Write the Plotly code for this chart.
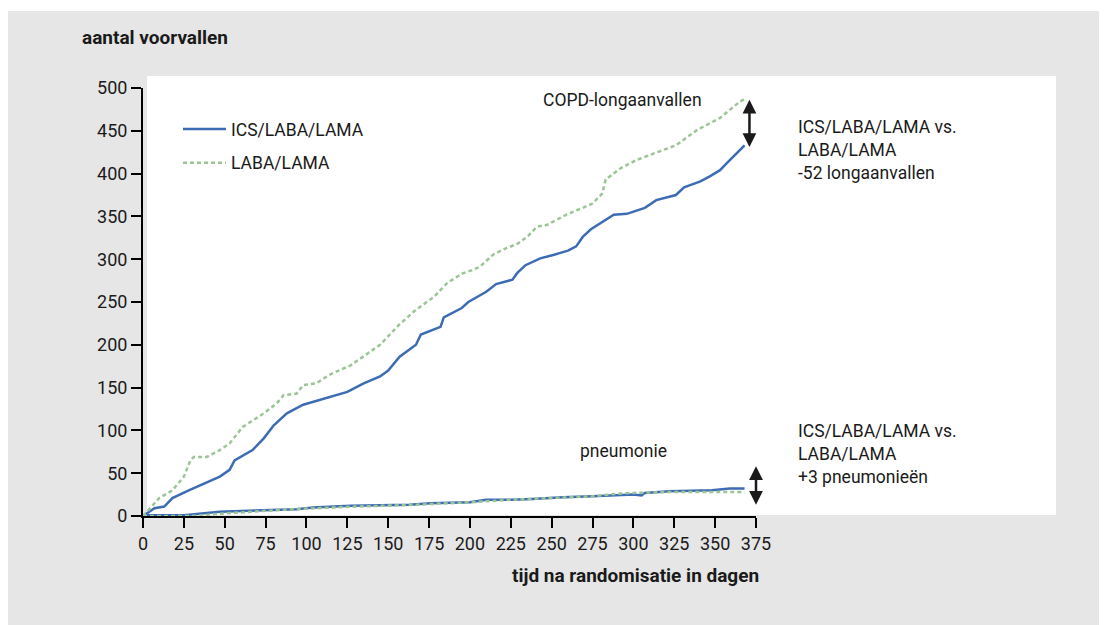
import plotly.graph_objects as go

# ---------------- data ----------------
copd_triple_days = [0, 7, 13, 18, 28, 37, 47, 53, 56, 67, 74, 80, 88, 98, 114, 125, 135, 145, 150, 157,
                    167, 170, 182, 184, 195, 199, 210, 216, 226, 229, 234, 243, 251, 260, 265, 269, 274,
                    281, 288, 296, 307, 314, 326, 331, 341, 347, 353, 357, 362, 368]
copd_triple_vals = [0, 9, 11, 21, 30, 38, 46, 54, 65, 77, 91, 106, 120, 130, 139, 145, 155, 163, 170, 186,
                    200, 212, 221, 232, 243, 250, 262, 271, 276, 284, 293, 301, 305, 310, 315, 326, 335,
                    343, 352, 353, 360, 369, 375, 384, 391, 397, 404, 412, 422, 433]

copd_dual_days = [0, 10, 18, 25, 29, 31, 39, 47, 53, 61, 74, 82, 86, 94, 98, 106, 114, 127, 145, 157,
                  167, 178, 186, 195, 201, 206, 214, 220, 229, 235, 241, 247, 253, 259, 269, 275, 281,
                  283, 292, 302, 316, 326, 339, 347, 353, 365, 368]
copd_dual_vals = [0, 21, 30, 46, 65, 69, 69, 77, 85, 104, 120, 132, 141, 143, 153, 155, 165, 176, 200, 224,
                  241, 256, 272, 283, 287, 291, 305, 311, 318, 326, 338, 340, 346, 352, 360, 365, 377,
                  393, 406, 416, 426, 433, 451, 459, 465, 484, 487]

pneu_triple_days = [0, 3, 25, 47, 94, 104, 127, 163, 176, 200, 210, 225, 238, 257, 275, 294, 300, 305,
                    307, 322, 348, 359, 368]
pneu_triple_vals = [0, 1, 1, 5, 8, 10, 12, 13, 15, 16, 19, 19, 20, 22, 23, 25, 25, 24, 27, 29, 30, 32, 32]

pneu_dual_days = [0, 30, 50, 92, 130, 165, 200, 225, 250, 275, 290, 300, 322, 350, 368]
pneu_dual_vals = [0, 0, 3, 8, 11, 13, 16, 19, 21, 23, 26, 27, 28, 28, 28]

x_ticks = list(range(0, 376, 25))
y_ticks = list(range(0, 501, 50))

series_names = ["ICS/LABA/LAMA", "LABA/LAMA"]

# ---------------- layout helpers (screen pixel -> paper) ----------------
OFF = 8                     # page body margin
W, H = 1107 - OFF, 625 - OFF
L, T = 143 - OFF, 88 - OFF
PW, PH = 756 - 143, 516 - 88
R, B = W - L - PW, H - T - PH


def px(xs):
    return (xs - OFF - L) / PW


def py(ys):
    return (T + PH - (ys - OFF)) / PH


BLUE = "#3d6cb4"
GREEN = "#9cc497"
GRAY = "#e6e6e6"
TXT = "#1a1a1a"
FONT = "Roboto"

fig = go.Figure()

fig.add_trace(go.Scatter(x=copd_triple_days, y=copd_triple_vals, mode="lines",
                         name=series_names[0], legendgroup="a",
                         line=dict(color=BLUE, width=2.5)))
fig.add_trace(go.Scatter(x=pneu_triple_days, y=pneu_triple_vals, mode="lines",
                         name=series_names[0], legendgroup="a", showlegend=False,
                         line=dict(color=BLUE, width=2.5)))
fig.add_trace(go.Scatter(x=copd_dual_days, y=copd_dual_vals, mode="lines",
                         name=series_names[1], legendgroup="b",
                         line=dict(color=GREEN, width=2.5, dash="4px,3px")))
fig.add_trace(go.Scatter(x=pneu_dual_days, y=pneu_dual_vals, mode="lines",
                         name=series_names[1], legendgroup="b", showlegend=False,
                         line=dict(color=GREEN, width=2.5, dash="4px,3px")))

shapes = [
    dict(type="rect", xref="paper", yref="paper", x0=px(7), x1=px(1110), y0=py(630), y1=py(11),
         fillcolor=GRAY, line=dict(width=0), layer="below"),
    dict(type="rect", xref="paper", yref="paper", x0=px(147), x1=px(1056), y0=py(515), y1=py(76),
         fillcolor="white", line=dict(width=0), layer="below"),
]

annotations = [
    dict(text="<b>aantal voorvallen</b>", xref="paper", yref="paper", x=px(80), y=py(38),
         xanchor="left", yanchor="middle", showarrow=False, font=dict(size=19, color=TXT)),
    dict(text="<b>tijd na randomisatie in dagen</b>", xref="paper", yref="paper", x=px(761), y=py(575),
         xanchor="right", yanchor="middle", showarrow=False, font=dict(size=19, color=TXT)),
    dict(text="COPD-longaanvallen", xref="paper", yref="paper", x=px(622), y=py(100),
         xanchor="center", yanchor="middle", showarrow=False, font=dict(size=17.5, color=TXT)),
    dict(text="ICS/LABA/LAMA vs.<br>LABA/LAMA<br>-52 longaanvallen", xref="paper", yref="paper",
         x=px(796), y=py(150), xanchor="left", yanchor="middle", align="left", showarrow=False,
         font=dict(size=17.5, color=TXT)),
    dict(text="pneumonie", xref="paper", yref="paper", x=px(623), y=py(451),
         xanchor="center", yanchor="middle", showarrow=False, font=dict(size=17.5, color=TXT)),
    dict(text="ICS/LABA/LAMA vs.<br>LABA/LAMA<br>+3 pneumonieën", xref="paper", yref="paper",
         x=px(796), y=py(454), xanchor="left", yanchor="middle", align="left", showarrow=False,
         font=dict(size=17.5, color=TXT)),
    # double-headed arrows
    dict(text="", x=371, y=431, ax=371, ay=488, xref="x", yref="y", axref="x", ayref="y",
         showarrow=True, arrowhead=2, startarrowhead=2, arrowside="end+start",
         arrowwidth=2.5, arrowsize=1.1, startarrowsize=1.1, arrowcolor=TXT, standoff=0, startstandoff=0),
    dict(text="", x=375, y=13, ax=375, ay=60, xref="x", yref="y", axref="x", ayref="y",
         showarrow=True, arrowhead=2, startarrowhead=2, arrowside="end+start",
         arrowwidth=2.5, arrowsize=1.1, startarrowsize=1.1, arrowcolor=TXT, standoff=0, startstandoff=0),
]

fig.update_layout(
    width=W, height=H,
    margin=dict(l=L, r=R, t=T, b=B, pad=0),
    paper_bgcolor="white",
    plot_bgcolor="rgba(0,0,0,0)",
    font=dict(family=FONT, size=18, color=TXT),
    shapes=shapes,
    annotations=annotations,
    showlegend=True,
    legend=dict(x=px(183) - 5 / PW, y=py(111), xanchor="left", yanchor="top",
                bgcolor="rgba(0,0,0,0)", borderwidth=0, tracegroupgap=8, itemwidth=43,
                font=dict(family=FONT, size=17.5, color=TXT)),
    xaxis=dict(range=[0, 375], tickvals=x_ticks, ticktext=[str(v) for v in x_ticks],
               showgrid=False, zeroline=False, showline=True, linecolor="black", linewidth=2,
               ticks="outside", ticklen=10, tickwidth=2, tickcolor="black",
               tickfont=dict(size=18, color=TXT)),
    yaxis=dict(range=[0, 500], tickvals=y_ticks, ticktext=[str(v) for v in y_ticks],
               showgrid=False, zeroline=False, showline=True, linecolor="black", linewidth=2,
               ticks="outside", ticklen=10, tickwidth=2, tickcolor="black",
               tickfont=dict(size=18, color=TXT)),
)

fig.write_html("out.html")
